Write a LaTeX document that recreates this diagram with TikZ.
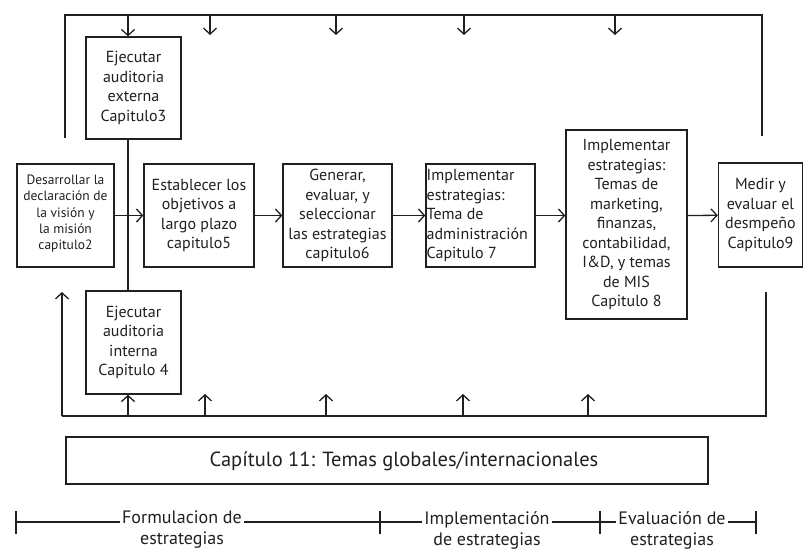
\documentclass[tikz,border=0pt]{standalone}
\usepackage{fontspec}
\setmainfont{PT Sans}
\usetikzlibrary{arrows.meta,calc}
\definecolor{ink}{HTML}{231F20}
\tikzset{
  boxfont/.style={font=\fontsize{16}{19.5}\selectfont},
  stage/.style={draw=ink, line width=1.3pt, fill=white, align=center, inner sep=1pt,
    boxfont, text=ink},
  smallstage/.style={stage, font=\fontsize{13.5}{16.3}\selectfont},
  flow/.style={draw=ink, line width=1.3pt, -{Straight Barb[length=6pt,width=13pt,line width=1.3pt]}},
  wire/.style={draw=ink, line width=1.3pt},
  phase/.style={fill=white, inner sep=2pt, text=ink, align=center,
    font=\fontsize{18}{21}\selectfont},
}
\begin{document}
\begin{tikzpicture}[x=1pt, y=-1pt]
\useasboundingbox (0,0) rectangle (804,550);

% stage boxes
\node[stage, minimum width=95pt, minimum height=102pt] (ext) at (133.5,88) {Ejecutar\\auditoria\\externa\\Capitulo3};
\node[stage, minimum width=95pt, minimum height=103pt] (int) at (133.5,342.5) {Ejecutar\\auditoria\\interna\\Capitulo 4};
\node[smallstage, minimum width=97pt, minimum height=103pt, text depth=6pt] (mis) at (65.5,215.5) {Desarrollar la\\declaración de\\la visión y\\la misión\\capitulo2};
\node[stage, minimum width=110pt, minimum height=103pt] (obj) at (199,215.5) {Establecer los\\objetivos a\\largo plazo\\capitulo5};
\node[stage, minimum width=109pt, minimum height=103pt] (gen) at (337.5,215.5) {Generar,\\evaluar, y\\seleccionar\\las estrategias\\capitulo6};
\node[stage, minimum width=109pt, minimum height=103pt] (adm) at (480.5,215.5) {};
\node[anchor=west, align=left, inner sep=0pt, text=ink, boxfont] (admtext) at (426.5,215.5) {Implementar\\estrategias:\\Tema de\\administración\\Capitulo 7};
\node[stage, minimum width=121pt, minimum height=189pt] (mkt) at (626.5,224.5) {Implementar\\estrategias:\\Temas de\\marketing,\\finanzas,\\contabilidad,\\I\&D, y temas\\de MIS\\Capitulo 8};
\node[stage, minimum width=84pt, minimum height=104pt] (eva) at (760.5,215) {Medir y\\evaluar el\\desmpeño\\Capitulo9};
\node[stage, minimum width=642pt, minimum height=47pt] (glob) at (387,460.5) {};
\node[text=ink, inner sep=0pt, font=\fontsize{20.5}{24}\selectfont] (globtext) at (404,461) {Capítulo 11: Temas globales/internacionales};

% main flow
\draw[flow] (mis) -- (obj);
\draw[flow] (obj) -- (gen);
\draw[flow] (gen) -- (adm);
\draw[flow] (adm.east |- gen.east) -- (mkt.west |- gen.east);
\draw[flow] (mkt.east |- gen.east) -- (eva);

% external and internal audits
\coordinate (axis) at (128,0);
\draw[wire] (ext.south -| axis) -- (int.north -| axis);

% top feedback loop
\coordinate (tl) at (65,138);
\coordinate (tr) at (762,136);
\draw[wire] (tl) -- (65,15) -- (762,15) -- (tr);
\draw[flow] (128,15) -- (ext.north -| axis);
\foreach \x/\n in {210/a,336/b,464/c,615/d} {
  \coordinate (down\n) at (\x,15);
  \draw[flow] (down\n) -- ++(0,20);
}

% bottom feedback loop
\coordinate (bl) at (62,416);
\coordinate (br) at (766,416);
\draw[wire] (bl) -- (br) -- (766,292);
\draw[flow] (bl) -- (62,292);
\draw[flow] (128,416) -- (int.south -| axis);
\foreach \x/\n in {205/a,326/b,463/c,588/d} {
  \coordinate (up\n) at (\x,416);
  \draw[flow] (up\n) -- ++(0,-22);
}

% phase timeline
\coordinate (p0) at (16,522);
\coordinate (p1) at (380,522);
\coordinate (p2) at (600,522);
\coordinate (p3) at (756,522);
\draw[wire] (p0) -- (p3);
\foreach \p in {p0,p1,p2,p3} \draw[wire] ($(\p)+(0,-11)$) -- ($(\p)+(0,12)$);
\node[phase, anchor=north] (f1) at (182,509) {Formulacion de\\estrategias};
\node[phase, anchor=north] (f2) at (487,509) {Implementación\\de estrategias};
\node[phase, anchor=north] (f3) at (672,509) {Evaluación de\\estrategias};
\end{tikzpicture}
\end{document}
